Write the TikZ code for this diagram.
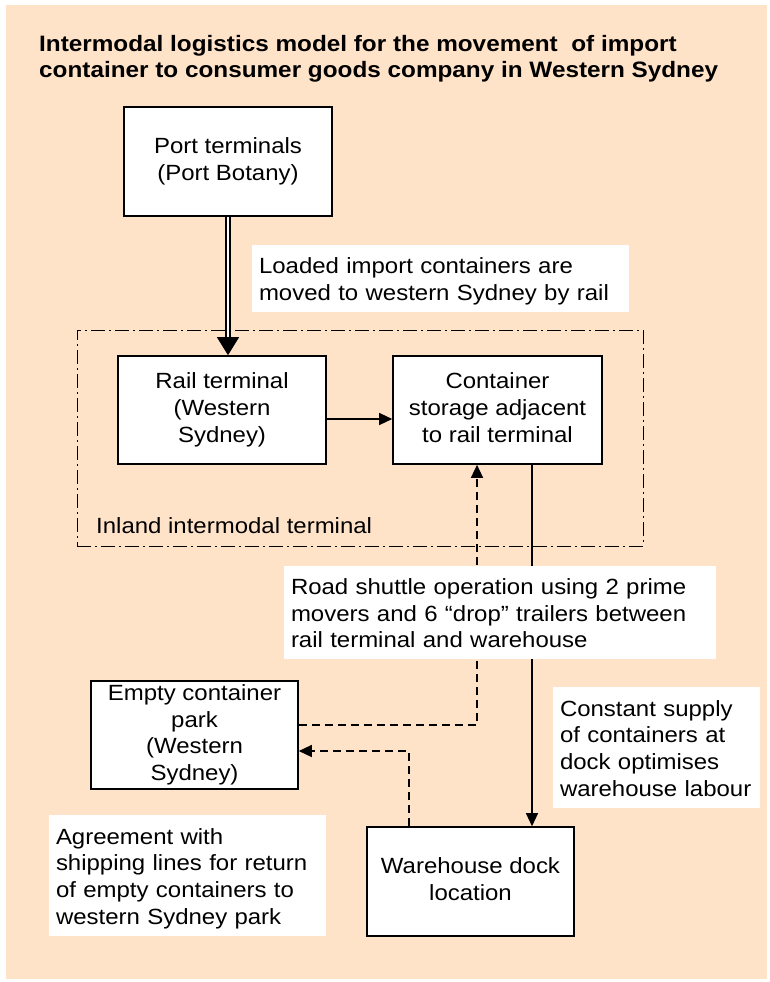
\documentclass[tikz,border=0pt]{standalone}
\usepackage{fontspec}
\setmainfont{Liberation Sans}[FakeStretch=1.09]
\usetikzlibrary{arrows.meta,calc}
\definecolor{peach}{RGB}{255,227,201}
\newcommand\diagbody{\fontsize{22}{26.7}\selectfont}
\newcommand\diagtitle{\bfseries\fontsize{22.3}{26}\selectfont}
\newcommand\topstrut{\rule{0pt}{22pt}}
\newcommand\botstrut{\rule[-4.7pt]{0pt}{4.7pt}}
\begin{document}
\begin{tikzpicture}[x=1pt,y=-1pt,
  struts/.style={execute at begin node=\topstrut, execute at end node=\botstrut},
  stagebox/.style={draw, line width=1.6pt, fill=white, inner sep=0pt, align=center, font=\diagbody, struts},
  notebox/.style={fill=white, inner xsep=7pt, inner ysep=0pt, align=left, font=\diagbody, struts},
  tip/.style={-{Triangle[width=12pt,length=13pt]}},
  solidline/.style={line width=1.3pt},
  dashline/.style={line width=1.3pt, dash pattern=on 8pt off 5pt},
  dashdot/.style={line width=1pt, dash pattern=on 14pt off 4pt on 2pt off 4pt}
]
\useasboundingbox (0,0) rectangle (770,982);
\fill[peach] (6,5) rectangle (767,979);

% title
\node[anchor=north west, inner sep=0pt, align=left, font=\diagtitle,
      execute at begin node=\rule{0pt}{20pt}] (title) at (39,35.3)
  {Intermodal logistics model for the movement\ \ of import\\container to consumer goods company in Western Sydney};

% inland terminal boundary
\node[draw, dashdot, minimum width=566pt, minimum height=216pt, inner sep=0pt] (inland) at (360,438) {};
\node[anchor=base west, inner sep=0pt, font=\diagbody] (inlandlbl) at (96,533) {Inland intermodal terminal};

% stages
\node[stagebox, minimum width=208pt, minimum height=109pt] (port) at (228,161.5) {Port terminals\\(Port Botany)};
\node[stagebox, minimum width=208pt, minimum height=108pt] (rail) at (222,410) {Rail terminal\\(Western\\Sydney)};
\node[stagebox, minimum width=209pt, minimum height=108pt] (storage) at (497.5,410) {Container\\storage adjacent\\to rail terminal};
\node[stagebox, minimum width=207pt, minimum height=108pt] (park) at (194.5,735) {Empty container\\park\\(Western\\Sydney)};
\node[stagebox, minimum width=207pt, minimum height=109pt] (wh) at (470.5,881.5) {Warehouse dock\\location};

% connectors
\coordinate (railtop) at (port.south |- rail.north);
\draw[line width=1.7pt, double=white, double distance=1.7pt] (port.south) -- ($(railtop)+(0,-17)$);
\draw[line width=1pt, -{Triangle[width=22pt,length=18pt]}] ($(railtop)+(0,-18)$) -- (railtop);

\coordinate (ra) at ($(rail.east)+(0,9)$);
\draw[solidline, tip] (ra) -- (ra -| storage.west);

\coordinate (dj) at (477,725);
\draw[dashline, tip] (dj -| park.east) -- (dj) -- (dj |- storage.south);

\coordinate (wj) at (409,751);
\draw[dashline, tip] (wj |- wh.north) -- (wj) -- (wj -| park.east);

\coordinate (sx) at (532,600);
\draw[solidline, tip] (sx |- storage.south) -- (sx |- wh.north);

% notes (drawn over the connectors)
\node[notebox, minimum width=377pt, minimum height=67pt, text width=363pt] (loaded) at (440.5,278.5)
  {Loaded import containers are\\moved to western Sydney by rail};
\node[notebox, minimum width=432pt, minimum height=93pt, text width=418pt] (road) at (500,612.5)
  {Road shuttle operation using 2 prime\\movers and 6 “drop” trailers between\\rail terminal and warehouse};
\node[notebox, minimum width=207pt, minimum height=121pt, text width=193pt] (supply) at (656.5,747.5)
  {Constant supply\\of containers at\\dock optimises\\warehouse labour};
\node[notebox, minimum width=277pt, minimum height=121pt, text width=263pt] (agree) at (187.5,875.5)
  {Agreement with\\shipping lines for return\\of empty containers to\\western Sydney park};
\end{tikzpicture}
\end{document}
